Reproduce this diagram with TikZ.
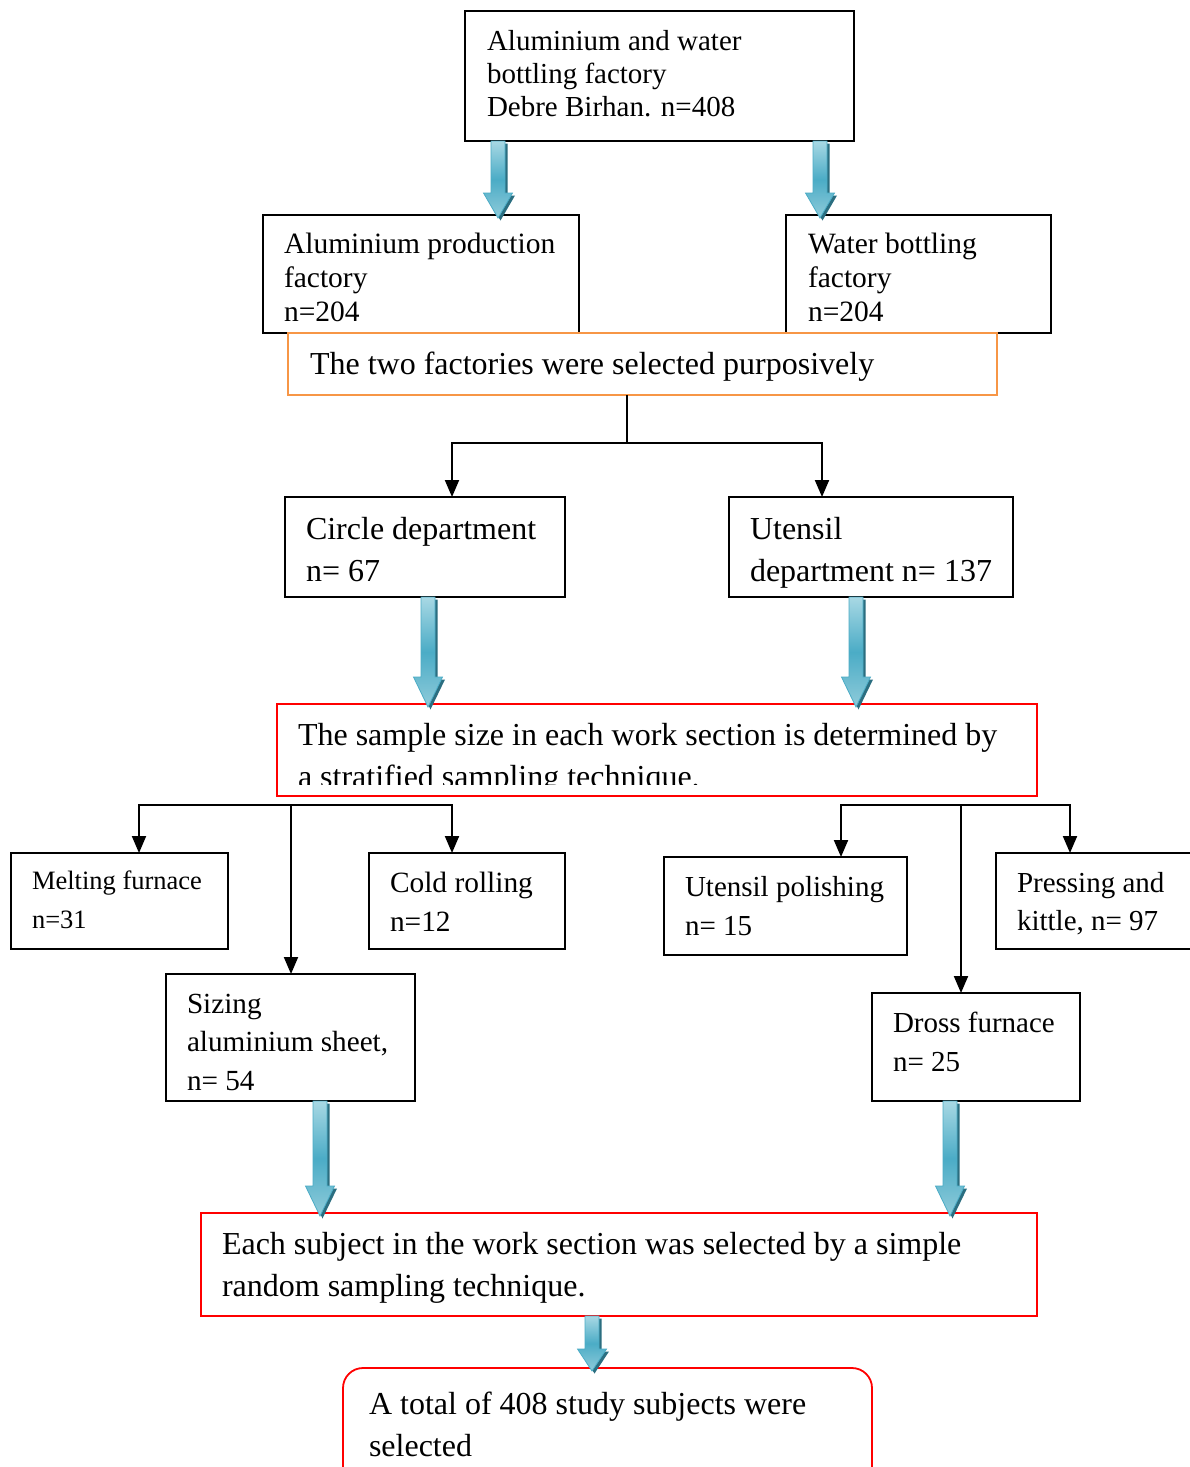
\documentclass[tikz,border=0pt]{standalone}
\usepackage{fontspec}
\setmainfont{Liberation Serif}
\usetikzlibrary{calc,arrows.meta}
\definecolor{orng}{HTML}{F79646}
\definecolor{blA}{HTML}{A8D8E4}
\definecolor{blB}{HTML}{4BACC6}
\definecolor{blC}{HTML}{8FCBDA}
\definecolor{bsh}{HTML}{2B6E80}
\tikzset{
 boxb/.style={draw=black, line width=1.8pt, fill=white, inner sep=0, outer sep=0},
 boxo/.style={draw=orng, line width=1.8pt, fill=white, inner sep=0, outer sep=0},
 boxr/.style={draw=red, line width=1.8pt, fill=white, inner sep=0, outer sep=0},
 txt/.style={inner sep=0, outer sep=0, anchor=north west, align=left},
 conn/.style={draw=black, line width=2pt},
 arr/.style={conn, -{Triangle[length=17pt,width=14pt]}},
 bfill/.style={top color=blA, bottom color=blC, middle color=blB, draw=blB, line width=0.8pt},
 bshad/.style={fill=bsh},
}
\newcommand\bx[6]{\node[#6, anchor=north west, minimum width={#4-#2}, minimum height={#5-#3}] (#1) at (#2,#3) {};}
\newcommand\tx[6]{\node[txt, font=\fontsize{#4}{#5}\selectfont] (#1) at (#2,{#3-0.7*#5}) {\strut #6};}
\newcommand\bapath[5]{($(#1)+({-7+#3},{#4})$) -- ($(#1)+({7+#3},{#4})$) -- ($(#2)+({7+#3},{-#5+#4})$) -- ($(#2)+({14.5+#3},{-#5+#4})$) -- ($(#2)+({#3},{#4})$) -- ($(#2)+({-14.5+#3},{-#5+#4})$) -- ($(#2)+({-7+#3},{-#5+#4})$) -- cycle}
\newcommand\barrow[4]{%
 \coordinate (bt) at (#1,0 |- #2.south);
 \coordinate (bb) at ($(#1,0 |- #3.north)+(0,3)$);
 \fill[bshad] \bapath{bt}{bb}{2.5}{2.5}{#4};
 \shadedraw[bfill] \bapath{bt}{bb}{0}{0}{#4};
}
\begin{document}
\begin{tikzpicture}[x=1pt,y=-1pt]
\clip (0,0) rectangle (1190,1467);
\fill[white] (0,0) rectangle (1190,1467);
% boxes
\bx{top}{465}{11}{854}{141}{boxb}
\tx{ttop}{487}{50}{29}{33}{Aluminium and water\\bottling factory\\Debre Birhan. n=408}
\bx{alu}{263}{215}{579}{333}{boxb}
\tx{talu}{284}{253}{29.5}{34}{Aluminium production\\factory\\n=204}
\bx{wat}{786}{215}{1051}{333}{boxb}
\tx{twat}{808}{253}{29.5}{34}{Water bottling\\factory\\n=204}
\bx{ora}{288}{333}{997}{395}{boxo}
\tx{tora}{310}{374}{32}{41}{The two factories were selected purposively}
\bx{circ}{285}{497}{565}{597}{boxb}
\tx{tcirc}{306}{539}{32}{42}{Circle department\\n= 67}
\bx{uten}{729}{497}{1013}{597}{boxb}
\tx{tuten}{750}{539}{32}{42}{Utensil\\department n= 137}
\bx{redA}{277}{704}{1037}{796}{boxr}
\begin{scope}
\clip (277,704) rectangle (1037,784);
\tx{tredA}{298}{745}{32}{42}{The sample size in each work section is determined by\\a stratified sampling technique.}
\end{scope}
\bx{melt}{11}{853}{228}{949}{boxb}
\tx{tmelt}{32}{889}{26.5}{39}{Melting furnace\\n=31}
\bx{cold}{369}{853}{565}{949}{boxb}
\tx{tcold}{390}{892}{29.4}{39}{Cold rolling\\n=12}
\bx{size}{166}{974}{415}{1101}{boxb}
\tx{tsize}{187}{1013}{29.2}{38.5}{Sizing\\aluminium sheet,\\n= 54}
\bx{pol}{664}{857}{907}{955}{boxb}
\tx{tpol}{685}{896}{29}{39}{Utensil polishing\\n= 15}
\bx{pres}{996}{853}{1200}{949}{boxb}
\tx{tpres}{1017}{892}{29}{38}{Pressing and\\kittle, n= 97}
\bx{dross}{872}{993}{1080}{1101}{boxb}
\tx{tdross}{893}{1032}{29}{39}{Dross furnace\\n= 25}
\bx{redB}{201}{1213}{1037}{1316}{boxr}
\tx{tredB}{222}{1254}{32}{42}{Each subject in the work section was selected by a simple\\random sampling technique.}
\node[boxr, rounded corners=20pt, anchor=north west, minimum width=529, minimum height=130] (tot) at (343,1368) {};
\tx{ttot}{369}{1414}{32}{42}{A total of 408 study subjects were\\selected}
% tree connectors
\coordinate (j1) at (627,443);
\draw[conn] (627,0 |- ora.south) -- (j1);
\draw[arr] (j1) -| (452,0 |- circ.north);
\draw[arr] (j1) -| (822,0 |- uten.north);
\coordinate (j2) at (291,805);
\draw[arr] (j2) -- (291,0 |- size.north);
\draw[arr] (j2) -| (139,0 |- melt.north);
\draw[arr] (j2) -| (452,0 |- cold.north);
\coordinate (j3) at (961,805);
\draw[arr] (j3) -- (961,0 |- dross.north);
\draw[arr] (j3) -| (841,0 |- pol.north);
\draw[arr] (j3) -| (1070,0 |- pres.north);
% block arrows
\barrow{498}{top}{alu}{25}
\barrow{820}{top}{wat}{25}
\barrow{428}{circ}{redA}{30}
\barrow{856}{uten}{redA}{30}
\barrow{320}{size}{redB}{30}
\barrow{950}{dross}{redB}{30}
\barrow{592}{redB}{tot}{22}
\end{tikzpicture}
\end{document}
